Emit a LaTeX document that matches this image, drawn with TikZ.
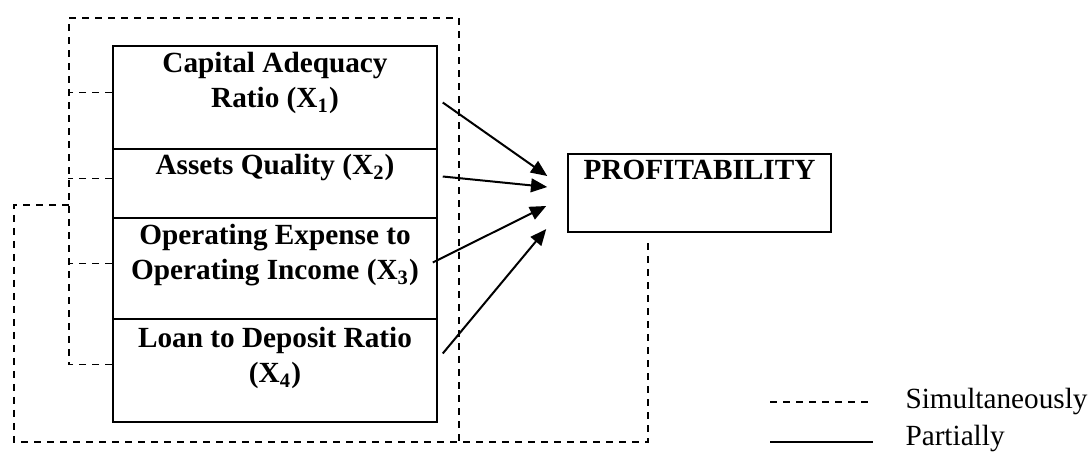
\documentclass[tikz,border=0pt]{standalone}
\usepackage{fontspec}
\setmainfont{Liberation Serif}
\usetikzlibrary{arrows.meta,calc}

\begin{document}
\begin{tikzpicture}[x=0.4pt,y=-0.4pt,
		varbox/.style={draw,line width=0.6pt,minimum width=129.6pt,inner sep=0pt},
		vartext/.style={align=center,inner sep=0pt,font=\fontsize{11.7}{14}\selectfont\bfseries},
		legtext/.style={anchor=base west,inner sep=0pt,font=\fontsize{11.7}{14}\selectfont},
		simul/.style={line width=0.5pt,dash pattern=on 2.8pt off 2.4pt},
		partial/.style={line width=0.8pt,-{Triangle[length=6.5pt,width=5.5pt]}}]
		\useasboundingbox (0,0) rectangle (1089,452);
		% boxes
		\node[varbox,minimum height=41.2pt](car) at (275,97.5){};
		\node[varbox,minimum height=27.6pt](aq) at (275,183.5){};
		\node[varbox,minimum height=40.4pt](bopo) at (275,268.5){};
		\node[varbox,minimum height=41.2pt](ldr) at (275,370.5){};
		\node[varbox,minimum width=105.2pt,minimum height=31.2pt](prof) at (699.5,193){};
		% texts (base = last line)
		\node[vartext,anchor=base](carT) at (275,108){Capital Adequacy\\Ratio (X\textsubscript{1})};
		\node[vartext,anchor=base](aqT) at (275,175){Assets Quality (X\textsubscript{2})};
		\node[vartext,anchor=base](bopoT) at (275,280){Operating Expense to\\Operating Income (X\textsubscript{3})};
		\node[vartext,anchor=base](ldrT) at (275,383){Loan to Deposit Ratio\\(X\textsubscript{4})};
		\node[vartext,anchor=base](profT) at (699.5,180){PROFITABILITY};
		% dashed frame
		\coordinate (tl) at (69,18);
		\coordinate (tr) at (459,18);
		\coordinate (rb) at (459,442);
		\coordinate (jn) at (69,205);
		\coordinate (bl) at (14,442);
		\coordinate (br) at (648,442);
		\coordinate (pb) at (648,240);
		\foreach \v in {car,aq,bopo}
			\draw[simul] ($(\v.west)+(0,-5)$) -- ++(-44,0);
		\draw[simul] ($(ldr.west)+(0,-6)$) -| (tl) -- (tr) -- (rb);
		\draw[simul] (jn) -| (bl) -- (br) -- (pb);
		% arrows
		\draw[partial] ($(car.east)+(5,5)$) -- ($(prof.west)+(-20,-17)$);
		\draw[partial] ($(aq.east)+(5,-7)$) -- ($(prof.west)+(-20,-6)$);
		\draw[partial] ($(bopo.east)+(-5,-6)$) -- ($(prof.west)+(-21,13)$);
		\draw[partial] ($(ldr.east)+(5,-17)$) -- ($(prof.west)+(-21,36)$);
		% legend
		\coordinate (ls1) at (770,402);
		\coordinate (le1) at (873,402);
		\coordinate (ls2) at (770,442);
		\coordinate (le2) at (873,442);
		\draw[simul] (ls1) -- (le1);
		\draw[line width=0.7pt] (ls2) -- (le2);
		\node[legtext](simT) at (905,409){Simultaneously};
		\node[legtext](parT) at (905,446){Partially};
	\end{tikzpicture}
\end{document}
